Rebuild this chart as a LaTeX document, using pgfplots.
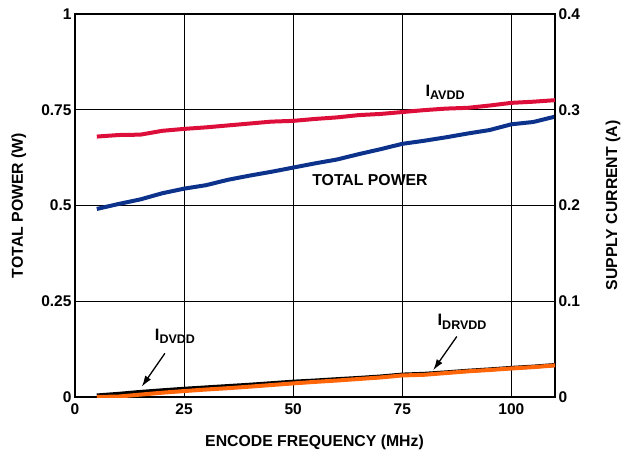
\documentclass[border=0pt]{standalone}
\usepackage{fontspec}
\setmainfont{Liberation Sans}
\usepackage{pgfplots}
\pgfplotsset{compat=1.18}
\usetikzlibrary{arrows.meta}
\definecolor{cred}{RGB}{222,14,58}
\definecolor{cblue}{RGB}{12,50,140}
\definecolor{corange}{RGB}{255,102,10}
\newcommand{\sublbl}[1]{\fontsize{16.5}{16.5}\selectfont\bfseries I\raisebox{-3.5pt}{\fontsize{12.5}{12.5}\selectfont\bfseries #1}}
\begin{document}
\begin{tikzpicture}[x=1pt,y=1pt]
\useasboundingbox (-75,-56) rectangle (557,397);
\pgfplotsset{
  base/.style={
    at={(0,0)}, anchor=south west,
    scale only axis, width=480pt, height=383pt,
    xmin=0, xmax=110,
    major tick length=0pt,
    axis line style={line width=1.4pt},
    tick label style={font=\fontsize{15.5}{15.5}\selectfont\bfseries},
    /pgf/number format/assume math mode=true,
    label style={font=\fontsize{15.8}{15.8}\selectfont\bfseries},
  }
}
\begin{axis}[base,
  ymin=0, ymax=1,
  xtick={0,25,50,75,100}, xticklabels={0,25,50,75,100},
  xticklabel style={yshift=-3.5pt},
  ytick={0,0.25,0.5,0.75,1}, yticklabels={0,0.25,0.5,0.75,1},
  grid=major, major grid style={black, line width=0.9pt},
  xlabel={ENCODE FREQUENCY (MHz)}, ylabel={TOTAL POWER (W)},
  xlabel style={at={(axis description cs:0.499,-0.1175)}, anchor=center},
  ylabel style={at={(axis description cs:-0.117,0.5)}, anchor=center},
]
\addplot[cblue, line width=4pt] coordinates {
(5,0.491) (10,0.504) (15,0.516) (20,0.532) (25,0.544) (30,0.553) (35,0.567)
(40,0.578) (45,0.588) (50,0.599) (55,0.610) (60,0.620) (65,0.634) (70,0.647)
(75,0.661) (80,0.669) (85,0.678) (90,0.688) (95,0.697) (100,0.712) (105,0.718) (110,0.732)};
\node[font=\fontsize{15.8}{15.8}\selectfont\bfseries] at (axis cs:67.6,0.567) {TOTAL POWER};
\node at (axis cs:84.8,0.796) {\sublbl{AVDD}};
\node at (axis cs:22.9,0.159) {\sublbl{DVDD}};
\node at (axis cs:88.7,0.196) {\sublbl{DRVDD}};
\draw[-{Latex[length=11pt,width=7pt]}, line width=1.3pt] (axis cs:20.6,0.114) -- (axis cs:15.3,0.027);
\draw[-{Latex[length=11pt,width=7pt]}, line width=1.3pt] (axis cs:87.5,0.158) -- (axis cs:82.1,0.070);
\end{axis}
\begin{axis}[base,
  ymin=0, ymax=0.4,
  axis x line=none, axis y line*=right,
  ytick={0,0.1,0.2,0.3,0.4}, yticklabels={0,0.1,0.2,0.3,0.4},
  ylabel={SUPPLY CURRENT (A)},
  ylabel style={at={(axis description cs:1.121,0.5)}, anchor=center, rotate=0},
]
\addplot[cred, line width=4pt] coordinates {
(5,0.2720) (10,0.2736) (15,0.2740) (20,0.2780) (25,0.2800) (30,0.2816) (35,0.2836)
(40,0.2856) (45,0.2876) (50,0.2884) (55,0.2904) (60,0.2920) (65,0.2944) (70,0.2956)
(75,0.2976) (80,0.2996) (85,0.3012) (90,0.3020) (95,0.3044) (100,0.3072) (105,0.3084) (110,0.3100)};
\addplot[black, line width=4pt] coordinates {
(5,0.0016) (10,0.0033) (15,0.0053) (20,0.0070) (25,0.0086) (30,0.0100) (35,0.0114)
(40,0.0128) (45,0.0144) (50,0.0160) (55,0.0172) (60,0.0186) (65,0.0199) (70,0.0214)
(75,0.0234) (80,0.0242) (85,0.0257) (90,0.0274) (95,0.0288) (100,0.0304) (105,0.0317) (110,0.0334)};
\addplot[corange, line width=4pt] coordinates {
(5,0.0000) (10,0.0005) (15,0.0025) (20,0.0045) (25,0.0062) (30,0.0078) (35,0.0092)
(40,0.0108) (45,0.0125) (50,0.0142) (55,0.0158) (60,0.0172) (65,0.0188) (70,0.0204)
(75,0.0225) (80,0.0232) (85,0.0250) (90,0.0268) (95,0.0282) (100,0.0298) (105,0.0312) (110,0.0330)};
\node[rotate=90, font=\fontsize{10.5}{10.5}\selectfont, anchor=center] at (axis description cs:1.127,0.0965) {06547-074};
\end{axis}
\end{tikzpicture}
\end{document}
